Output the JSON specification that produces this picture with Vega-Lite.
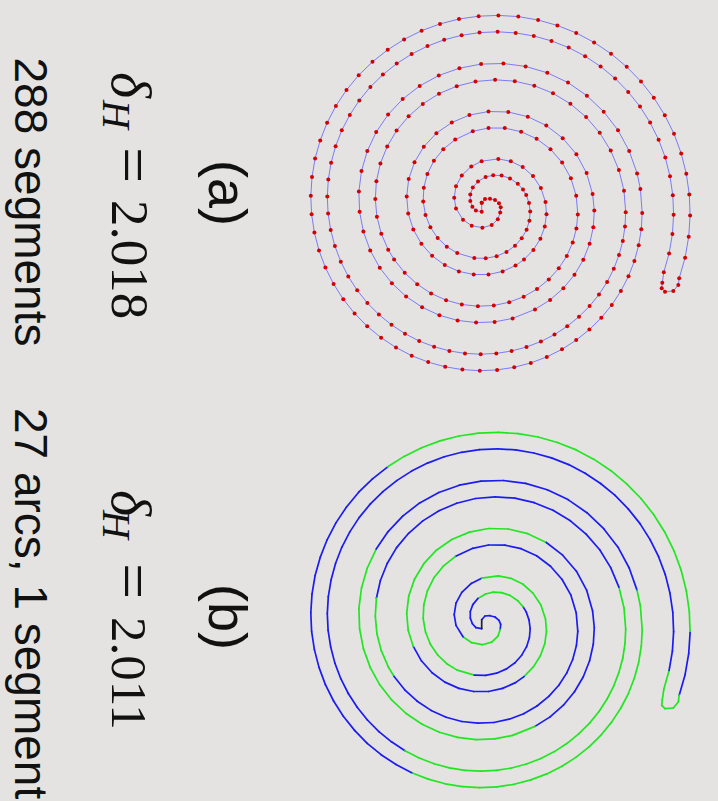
{
  "$schema": "https://vega.github.io/schema/vega-lite/v6.json",
  "background": "#e4e3e1",
  "padding": 0,
  "autosize": {"type": "pad"},
  "spacing": 0,
  "bounds": "flush",
  "config": {"view": {"stroke": null}},
  "datasets": {
    "curve": [
      {"i":0,"x":-6.8,"y":2.3,"arc":1},{"i":1,"x":-3.5,"y":6.0,"arc":1},{"i":2,"x":1.5,"y":6.3,"arc":1},{"i":3,"x":6.5,"y":5.0,"arc":1},{"i":4,"x":10.5,"y":1.7,"arc":1},{"i":5,"x":12.2,"y":-2.3,"arc":1},
      {"i":6,"x":11.7,"y":-7.6,"arc":2},{"i":7,"x":9.3,"y":-14.3,"arc":2},{"i":8,"x":3.2,"y":-20.1,"arc":2},{"i":9,"x":-6.1,"y":-22.7,"arc":2},{"i":10,"x":-16.8,"y":-20.7,"arc":2},
      {"i":11,"x":-25.5,"y":-14.8,"arc":1},{"i":12,"x":-32.5,"y":-3.4,"arc":1},{"i":13,"x":-34.3,"y":7.3,"arc":1},{"i":14,"x":-32.5,"y":18.8,"arc":1},{"i":15,"x":-26.7,"y":29.6,"arc":1},{"i":16,"x":-17.2,"y":38.6,"arc":1},
      {"i":17,"x":-6.9,"y":43.8,"arc":2},{"i":18,"x":9.8,"y":46.1,"arc":2},{"i":19,"x":22.3,"y":43.7,"arc":2},{"i":20,"x":34.2,"y":38.0,"arc":2},{"i":21,"x":44.5,"y":28.9,"arc":2},{"i":22,"x":52.4,"y":17.0,"arc":2},{"i":23,"x":57.0,"y":3.0,"arc":2},{"i":24,"x":58.0,"y":-9.2,"arc":2},{"i":25,"x":56.3,"y":-21.6,"arc":2},{"i":26,"x":51.9,"y":-33.7,"arc":2},{"i":27,"x":44.9,"y":-44.9,"arc":2},
      {"i":28,"x":35.5,"y":-54.6,"arc":1},{"i":29,"x":27.0,"y":-60.6,"arc":1},{"i":30,"x":14.1,"y":-66.4,"arc":1},{"i":31,"x":0.0,"y":-69.5,"arc":1},{"i":32,"x":-14.8,"y":-69.5,"arc":1},{"i":33,"x":-29.6,"y":-66.4,"arc":1},{"i":34,"x":-43.7,"y":-60.1,"arc":1},{"i":35,"x":-56.4,"y":-50.8,"arc":1},{"i":36,"x":-67.1,"y":-38.8,"arc":1},
      {"i":37,"x":-75.2,"y":-24.4,"arc":2},{"i":38,"x":-80.3,"y":-8.4,"arc":2},{"i":39,"x":-81.8,"y":8.6,"arc":2},{"i":40,"x":-79.8,"y":25.9,"arc":2},{"i":41,"x":-74.0,"y":42.8,"arc":2},{"i":42,"x":-64.7,"y":58.3,"arc":2},{"i":43,"x":-52.1,"y":71.8,"arc":2},{"i":44,"x":-36.7,"y":82.5,"arc":2},{"i":45,"x":-19.1,"y":89.9,"arc":2},{"i":46,"x":0.0,"y":93.5,"arc":2},{"i":47,"x":19.8,"y":93.0,"arc":2},{"i":48,"x":39.3,"y":88.3,"arc":2},
      {"i":49,"x":57.8,"y":79.5,"arc":1},{"i":50,"x":74.2,"y":66.8,"arc":1},{"i":51,"x":87.9,"y":50.8,"arc":1},{"i":52,"x":98.1,"y":31.9,"arc":1},{"i":53,"x":104.1,"y":10.9,"arc":1},{"i":54,"x":105.8,"y":-5.5,"arc":1},{"i":55,"x":104.8,"y":-22.3,"arc":1},{"i":56,"x":101.1,"y":-38.8,"arc":1},{"i":57,"x":94.8,"y":-54.8,"arc":1},{"i":58,"x":86.0,"y":-69.7,"arc":1},{"i":59,"x":74.9,"y":-83.2,"arc":1},{"i":60,"x":61.6,"y":-94.9,"arc":1},
      {"i":61,"x":46.5,"y":-104.4,"arc":2},{"i":62,"x":24.1,"y":-113.4,"arc":2},{"i":63,"x":6.1,"y":-116.9,"arc":2},{"i":64,"x":-12.4,"y":-117.6,"arc":2},{"i":65,"x":-30.9,"y":-115.4,"arc":2},{"i":66,"x":-49.1,"y":-110.3,"arc":2},{"i":67,"x":-66.4,"y":-102.2,"arc":2},{"i":68,"x":-82.4,"y":-91.5,"arc":2},{"i":69,"x":-96.6,"y":-78.2,"arc":2},{"i":70,"x":-108.7,"y":-62.8,"arc":2},{"i":71,"x":-118.3,"y":-45.4,"arc":2},{"i":72,"x":-125.1,"y":-26.6,"arc":2},{"i":73,"x":-128.9,"y":-6.8,"arc":2},{"i":74,"x":-129.6,"y":13.6,"arc":2},{"i":75,"x":-127.0,"y":34.0,"arc":2},{"i":76,"x":-121.2,"y":54.0,"arc":2},
      {"i":77,"x":-112.3,"y":72.9,"arc":1},{"i":78,"x":-100.4,"y":90.4,"arc":1},{"i":79,"x":-85.8,"y":105.9,"arc":1},{"i":80,"x":-68.8,"y":119.1,"arc":1},{"i":81,"x":-49.7,"y":129.5,"arc":1},{"i":82,"x":-29.1,"y":136.8,"arc":1},{"i":83,"x":-7.4,"y":140.9,"arc":1},{"i":84,"x":14.9,"y":141.5,"arc":1},{"i":85,"x":37.1,"y":138.6,"arc":1},{"i":86,"x":58.8,"y":132.2,"arc":1},{"i":87,"x":79.5,"y":122.4,"arc":1},{"i":88,"x":98.4,"y":109.3,"arc":1},{"i":89,"x":115.2,"y":93.3,"arc":1},{"i":90,"x":129.5,"y":74.8,"arc":1},{"i":91,"x":140.7,"y":54.0,"arc":1},
      {"i":92,"x":148.6,"y":31.6,"arc":2},{"i":93,"x":151.9,"y":16.0,"arc":2},{"i":94,"x":153.7,"y":-8.0,"arc":2},{"i":95,"x":152.8,"y":-24.2,"arc":2},{"i":96,"x":150.2,"y":-40.2,"arc":2},{"i":97,"x":145.9,"y":-56.0,"arc":2},{"i":98,"x":140.0,"y":-71.3,"arc":2},{"i":99,"x":132.4,"y":-86.0,"arc":2},{"i":100,"x":123.3,"y":-99.9,"arc":2},{"i":101,"x":112.8,"y":-112.8,"arc":2},{"i":102,"x":100.9,"y":-124.6,"arc":2},{"i":103,"x":87.7,"y":-135.1,"arc":2},{"i":104,"x":73.5,"y":-144.3,"arc":2},{"i":105,"x":58.3,"y":-151.9,"arc":2},{"i":106,"x":42.3,"y":-157.9,"arc":2},{"i":107,"x":25.7,"y":-162.3,"arc":2},{"i":108,"x":8.6,"y":-164.9,"arc":2},{"i":109,"x":-8.7,"y":-165.7,"arc":2},{"i":110,"x":-26.1,"y":-164.6,"arc":2},{"i":111,"x":-43.3,"y":-161.8,"arc":2},{"i":112,"x":-60.3,"y":-157.1,"arc":2},
      {"i":113,"x":-76.8,"y":-150.7,"arc":1},{"i":114,"x":-92.5,"y":-142.5,"arc":1},{"i":115,"x":-107.4,"y":-132.7,"arc":1},{"i":116,"x":-121.3,"y":-121.3,"arc":1},{"i":117,"x":-133.9,"y":-108.4,"arc":1},{"i":118,"x":-145.2,"y":-94.3,"arc":1},{"i":119,"x":-154.9,"y":-79.0,"arc":1},{"i":120,"x":-163.1,"y":-62.6,"arc":1},{"i":121,"x":-169.5,"y":-45.4,"arc":1},{"i":122,"x":-174.1,"y":-27.6,"arc":1},{"i":123,"x":-176.9,"y":-9.3,"arc":1},{"i":124,"x":-177.7,"y":9.3,"arc":1},{"i":125,"x":-176.5,"y":27.9,"arc":1},{"i":126,"x":-173.4,"y":46.5,"arc":1},{"i":127,"x":-168.3,"y":64.6,"arc":1},{"i":128,"x":-161.4,"y":82.2,"arc":1},{"i":129,"x":-152.6,"y":99.1,"arc":1},{"i":130,"x":-142.0,"y":115.0,"arc":1},{"i":131,"x":-129.8,"y":129.8,"arc":1},{"i":132,"x":-116.0,"y":143.2,"arc":1},
      {"i":133,"x":-100.8,"y":155.2,"arc":2},{"i":134,"x":-84.4,"y":165.6,"arc":2},{"i":135,"x":-66.9,"y":174.3,"arc":2},{"i":136,"x":-48.5,"y":181.1,"arc":2},{"i":137,"x":-29.5,"y":186.0,"arc":2},{"i":138,"x":-9.9,"y":188.8,"arc":2},{"i":139,"x":9.9,"y":189.6,"arc":2},{"i":140,"x":29.8,"y":188.4,"arc":2},{"i":141,"x":49.6,"y":185.0,"arc":2},{"i":142,"x":68.9,"y":179.5,"arc":2},{"i":143,"x":87.7,"y":172.1,"arc":2},{"i":144,"x":105.6,"y":162.6,"arc":2},{"i":145,"x":122.5,"y":151.3,"arc":2},{"i":146,"x":138.2,"y":138.2,"arc":2},{"i":147,"x":152.5,"y":123.5,"arc":2},{"i":148,"x":165.3,"y":107.3,"arc":2},{"i":149,"x":176.3,"y":89.8,"arc":2},{"i":150,"x":185.5,"y":71.2,"arc":2},{"i":151,"x":192.7,"y":51.6,"arc":2},{"i":152,"x":197.8,"y":31.3,"arc":2},{"i":153,"x":200.8,"y":10.5,"arc":2},
      {"i":154,"x":201.6,"y":-10.6,"arc":1},{"i":155,"x":200.2,"y":-31.7,"arc":1},{"i":156,"x":196.6,"y":-52.7,"arc":1},
      {"i":157,"x":190.7,"y":-73.2,"arc":2},{"i":158,"x":189.8,"y":-80.0,"arc":2},{"i":159,"x":184.8,"y":-86.0,"arc":2},{"i":160,"x":176.5,"y":-86.7,"arc":2},{"i":161,"x":173.2,"y":-83.3,"arc":2},{"i":162,"x":173.8,"y":-77.7,"arc":2},{"i":163,"x":175.3,"y":-67.3,"arc":2},
      {"i":164,"x":180.6,"y":-48.4,"arc":1},{"i":165,"x":183.9,"y":-29.1,"arc":1},{"i":166,"x":185.1,"y":-9.7,"arc":1},{"i":167,"x":184.3,"y":9.7,"arc":1},{"i":168,"x":181.5,"y":28.7,"arc":1},{"i":169,"x":176.8,"y":47.4,"arc":1},{"i":170,"x":170.1,"y":65.3,"arc":1},{"i":171,"x":161.6,"y":82.4,"arc":1},{"i":172,"x":151.5,"y":98.4,"arc":1},{"i":173,"x":139.7,"y":113.1,"arc":1},{"i":174,"x":126.6,"y":126.6,"arc":1},{"i":175,"x":112.1,"y":138.5,"arc":1},{"i":176,"x":96.6,"y":148.8,"arc":1},{"i":177,"x":80.2,"y":157.4,"arc":1},{"i":178,"x":63.0,"y":164.1,"arc":1},{"i":179,"x":45.3,"y":169.0,"arc":1},{"i":180,"x":27.2,"y":172.1,"arc":1},{"i":181,"x":9.1,"y":173.2,"arc":1},{"i":182,"x":-9.0,"y":172.4,"arc":1},{"i":183,"x":-26.9,"y":169.7,"arc":1},{"i":184,"x":-44.3,"y":165.2,"arc":1},{"i":185,"x":-61.0,"y":158.9,"arc":1},{"i":186,"x":-76.9,"y":150.9,"arc":1},{"i":187,"x":-91.8,"y":141.4,"arc":1},{"i":188,"x":-105.6,"y":130.4,"arc":1},{"i":189,"x":-118.1,"y":118.1,"arc":1},{"i":190,"x":-129.2,"y":104.6,"arc":1},{"i":191,"x":-138.7,"y":90.1,"arc":1},{"i":192,"x":-146.7,"y":74.7,"arc":1},{"i":193,"x":-152.9,"y":58.7,"arc":1},{"i":194,"x":-157.4,"y":42.2,"arc":1},{"i":195,"x":-160.2,"y":25.4,"arc":1},{"i":196,"x":-161.2,"y":8.4,"arc":1},{"i":197,"x":-160.4,"y":-8.4,"arc":1},{"i":198,"x":-157.8,"y":-25.0,"arc":1},{"i":199,"x":-153.6,"y":-41.1,"arc":1},{"i":200,"x":-147.7,"y":-56.7,"arc":1},{"i":201,"x":-140.2,"y":-71.5,"arc":1},{"i":202,"x":-131.3,"y":-85.3,"arc":1},{"i":203,"x":-121.1,"y":-98.0,"arc":1},{"i":204,"x":-109.6,"y":-109.6,"arc":1},{"i":205,"x":-97.0,"y":-119.8,"arc":1},
      {"i":206,"x":-83.5,"y":-128.7,"arc":2},{"i":207,"x":-69.3,"y":-136.0,"arc":2},{"i":208,"x":-54.4,"y":-141.7,"arc":2},{"i":209,"x":-39.1,"y":-145.9,"arc":2},{"i":210,"x":-23.5,"y":-148.4,"arc":2},{"i":211,"x":-7.8,"y":-149.2,"arc":2},{"i":212,"x":7.8,"y":-148.4,"arc":2},{"i":213,"x":23.1,"y":-146.0,"arc":2},{"i":214,"x":38.0,"y":-142.0,"arc":2},{"i":215,"x":52.4,"y":-136.5,"arc":2},{"i":216,"x":66.0,"y":-129.6,"arc":2},{"i":217,"x":78.7,"y":-121.3,"arc":2},{"i":218,"x":90.5,"y":-111.7,"arc":2},{"i":219,"x":101.1,"y":-101.1,"arc":2},{"i":220,"x":110.5,"y":-89.5,"arc":2},{"i":221,"x":118.6,"y":-77.0,"arc":2},{"i":222,"x":125.3,"y":-63.8,"arc":2},{"i":223,"x":130.5,"y":-50.1,"arc":2},{"i":224,"x":134.3,"y":-36.0,"arc":2},{"i":225,"x":136.5,"y":-21.6,"arc":2},{"i":226,"x":137.2,"y":-7.2,"arc":2},{"i":227,"x":135.5,"y":14.2,"arc":2},
      {"i":228,"x":130.4,"y":34.9,"arc":1},{"i":229,"x":122.2,"y":54.4,"arc":1},{"i":230,"x":111.2,"y":72.2,"arc":1},{"i":231,"x":97.6,"y":87.9,"arc":1},{"i":232,"x":81.9,"y":101.2,"arc":1},{"i":233,"x":64.5,"y":111.7,"arc":1},{"i":234,"x":45.8,"y":119.3,"arc":1},{"i":235,"x":26.3,"y":123.8,"arc":1},{"i":236,"x":6.6,"y":125.2,"arc":1},{"i":237,"x":-13.0,"y":123.5,"arc":1},{"i":238,"x":-31.8,"y":118.8,"arc":1},{"i":239,"x":-49.5,"y":111.3,"arc":1},{"i":240,"x":-65.7,"y":101.1,"arc":1},{"i":241,"x":-79.9,"y":88.7,"arc":1},{"i":242,"x":-91.9,"y":74.4,"arc":1},{"i":243,"x":-101.3,"y":58.5,"arc":1},{"i":244,"x":-108.1,"y":41.5,"arc":1},
      {"i":245,"x":-112.1,"y":23.8,"arc":2},{"i":246,"x":-113.2,"y":5.9,"arc":2},{"i":247,"x":-111.6,"y":-11.7,"arc":2},{"i":248,"x":-107.2,"y":-28.7,"arc":2},{"i":249,"x":-100.3,"y":-44.7,"arc":2},
      {"i":250,"x":-94.4,"y":-54.5,"arc":1},{"i":251,"x":-83.8,"y":-67.8,"arc":1},{"i":252,"x":-71.3,"y":-79.2,"arc":1},{"i":253,"x":-57.4,"y":-88.4,"arc":1},{"i":254,"x":-42.4,"y":-95.2,"arc":1},{"i":255,"x":-26.7,"y":-99.5,"arc":1},{"i":256,"x":-10.6,"y":-101.2,"arc":1},{"i":257,"x":5.3,"y":-100.5,"arc":1},{"i":258,"x":20.7,"y":-97.2,"arc":1},{"i":259,"x":35.2,"y":-91.7,"arc":1},{"i":260,"x":48.5,"y":-84.0,"arc":1},{"i":261,"x":60.3,"y":-74.4,"arc":1},{"i":262,"x":70.3,"y":-63.3,"arc":1},{"i":263,"x":78.3,"y":-50.9,"arc":1},{"i":264,"x":84.2,"y":-37.5,"arc":1},{"i":265,"x":87.9,"y":-23.6,"arc":1},{"i":266,"x":89.3,"y":-9.4,"arc":1},{"i":267,"x":87.7,"y":9.2,"arc":1},{"i":268,"x":82.4,"y":26.8,"arc":1},{"i":269,"x":73.6,"y":42.5,"arc":1},{"i":270,"x":62.0,"y":55.8,"arc":1},{"i":271,"x":48.1,"y":66.2,"arc":1},{"i":272,"x":32.6,"y":73.3,"arc":1},{"i":273,"x":16.3,"y":76.9,"arc":1},{"i":274,"x":0.0,"y":77.0,"arc":1},{"i":275,"x":-15.7,"y":73.7,"arc":1},
      {"i":276,"x":-33.3,"y":65.4,"arc":2},{"i":277,"x":-45.2,"y":55.8,"arc":2},{"i":278,"x":-54.6,"y":44.2,"arc":2},{"i":279,"x":-61.1,"y":31.1,"arc":2},{"i":280,"x":-64.7,"y":17.3,"arc":2},{"i":281,"x":-65.3,"y":3.4,"arc":2},{"i":282,"x":-63.0,"y":-10.0,"arc":2},{"i":283,"x":-58.1,"y":-22.3,"arc":2},{"i":284,"x":-50.8,"y":-33.0,"arc":2},{"i":285,"x":-41.7,"y":-41.7,"arc":2},{"i":286,"x":-31.3,"y":-48.1,"arc":2},
      {"i":287,"x":-14.2,"y":-53.1,"arc":1},{"i":288,"x":-2.8,"y":-53.3,"arc":1},{"i":289,"x":8.1,"y":-51.2,"arc":1},{"i":290,"x":18.0,"y":-46.9,"arc":1},{"i":291,"x":26.5,"y":-40.8,"arc":1},{"i":292,"x":33.2,"y":-33.2,"arc":1},{"i":293,"x":38.1,"y":-24.7,"arc":1},{"i":294,"x":40.9,"y":-15.7,"arc":1},{"i":295,"x":41.7,"y":-6.6,"arc":1},{"i":296,"x":40.5,"y":2.1,"arc":1},{"i":297,"x":37.7,"y":10.1,"arc":1},
      {"i":298,"x":34.5,"y":15.4,"arc":2},{"i":299,"x":29.3,"y":21.3,"arc":2},{"i":300,"x":21.5,"y":26.6,"arc":2},{"i":301,"x":13.1,"y":29.4,"arc":2},{"i":302,"x":4.7,"y":29.8,"arc":2},{"i":303,"x":-2.9,"y":28.0,"arc":2},
      {"i":304,"x":-10.5,"y":23.6,"arc":1},{"i":305,"x":-15.7,"y":17.4,"arc":1},{"i":306,"x":-18.2,"y":10.5,"arc":1},{"i":307,"x":-18.2,"y":3.9,"arc":1},{"i":308,"x":-16.1,"y":-1.7,"arc":1},{"i":309,"x":-12.6,"y":-5.6,"arc":1},
      {"i":310,"x":-6.8,"y":-6.7,"arc":0},{"i":311,"x":-6.8,"y":2.3,"arc":0}
    ]
  },
  "vconcat": [
    {
      "width": 718,
      "height": 400,
      "encoding": {
        "x": {"field": "x", "type": "quantitative", "scale": {"domain": [-488.5, 229.5], "nice": false, "zero": false}, "axis": null},
        "y": {"field": "y", "type": "quantitative", "scale": {"domain": [-195, 205], "nice": false, "zero": false}, "axis": null}
      },
      "layer": [
        {
          "data": {"name": "curve"},
          "mark": {"type": "line", "stroke": "#7b7bf6", "strokeWidth": 1},
          "encoding": {"order": {"field": "i", "type": "quantitative"}}
        },
        {
          "data": {"name": "curve"},
          "mark": {"type": "circle", "color": "#d40000", "size": 16, "opacity": 1}
        },
        {
          "data": {"values": [{"label": "(a)", "x": -263.5, "y": 12}]},
          "mark": {"type": "text", "angle": 90, "align": "center", "baseline": "middle", "font": "Liberation Sans", "fontSize": 54, "color": "#111111"},
          "encoding": {"text": {"field": "label"}}
        },
        {
          "data": {"values": [{"label": "288 segments", "x": -473.5, "y": 3}]},
          "mark": {"type": "text", "angle": 90, "align": "center", "baseline": "alphabetic", "font": "Liberation Sans", "fontSize": 46, "color": "#111111"},
          "encoding": {"text": {"field": "label"}}
        },
        {
          "data": {"values": [{"label": "δ", "x": -376.5, "y": 133}]},
          "mark": {"type": "text", "angle": 90, "align": "left", "baseline": "alphabetic", "font": "Liberation Serif", "fontStyle": "italic", "fontSize": 56, "color": "#111111"},
          "encoding": {"text": {"field": "label"}}
        },
        {
          "data": {"values": [{"label": "H", "x": -385.5, "y": 105}]},
          "mark": {"type": "text", "angle": 90, "align": "left", "baseline": "alphabetic", "font": "Liberation Serif", "fontStyle": "italic", "fontSize": 40, "color": "#111111"},
          "encoding": {"text": {"field": "label"}}
        },
        {
          "data": {"values": [{"label": "=", "x": -376.5, "y": 58}]},
          "mark": {"type": "text", "angle": 90, "align": "left", "baseline": "alphabetic", "font": "Liberation Serif", "fontSize": 64, "color": "#111111"},
          "encoding": {"text": {"field": "label"}}
        },
        {
          "data": {"values": [{"label": "2.018", "x": -376.5, "y": 5}]},
          "mark": {"type": "text", "angle": 90, "align": "left", "baseline": "alphabetic", "font": "Liberation Serif", "fontSize": 53, "color": "#111111"},
          "encoding": {"text": {"field": "label"}}
        }
      ]
    },
    {
      "width": 718,
      "height": 401,
      "encoding": {
        "x": {"field": "x", "type": "quantitative", "scale": {"domain": [-488.5, 229.5], "nice": false, "zero": false}, "axis": null},
        "y": {"field": "y", "type": "quantitative", "scale": {"domain": [-179, 222], "nice": false, "zero": false}, "axis": null}
      },
      "layer": [
        {
          "data": {"name": "curve"},
          "transform": [
            {"window": [{"op": "lead", "field": "x", "as": "x2"}, {"op": "lead", "field": "y", "as": "y2"}], "sort": [{"field": "i", "order": "ascending"}]},
            {"filter": "isValid(datum.x2)"}
          ],
          "mark": {"type": "rule", "strokeWidth": 1.7, "strokeCap": "round"},
          "encoding": {
            "x2": {"field": "x2"},
            "y2": {"field": "y2"},
            "color": {"field": "arc", "type": "nominal", "scale": {"domain": [1, 2, 0], "range": ["#1c1cf2", "#22e622", "#222222"]}, "legend": null}
          }
        },
        {
          "data": {"values": [{"label": "(b)", "x": -263.5, "y": 5}]},
          "mark": {"type": "text", "angle": 90, "align": "center", "baseline": "middle", "font": "Liberation Sans", "fontSize": 54, "color": "#111111"},
          "encoding": {"text": {"field": "label"}}
        },
        {
          "data": {"values": [{"label": "27 arcs, 1 segment", "x": -473.5, "y": 214}]},
          "mark": {"type": "text", "angle": 90, "align": "left", "baseline": "alphabetic", "font": "Liberation Sans", "fontSize": 46, "color": "#111111", "clip": true},
          "encoding": {"text": {"field": "label"}}
        },
        {
          "data": {"values": [{"label": "δ", "x": -376.5, "y": 132}]},
          "mark": {"type": "text", "angle": 90, "align": "left", "baseline": "alphabetic", "font": "Liberation Serif", "fontStyle": "italic", "fontSize": 56, "color": "#111111"},
          "encoding": {"text": {"field": "label"}}
        },
        {
          "data": {"values": [{"label": "H", "x": -385.5, "y": 112}]},
          "mark": {"type": "text", "angle": 90, "align": "left", "baseline": "alphabetic", "font": "Liberation Serif", "fontStyle": "italic", "fontSize": 40, "color": "#111111"},
          "encoding": {"text": {"field": "label"}}
        },
        {
          "data": {"values": [{"label": "=", "x": -376.5, "y": 59}]},
          "mark": {"type": "text", "angle": 90, "align": "left", "baseline": "alphabetic", "font": "Liberation Serif", "fontSize": 64, "color": "#111111"},
          "encoding": {"text": {"field": "label"}}
        },
        {
          "data": {"values": [{"label": "2.011", "x": -376.5, "y": 5}]},
          "mark": {"type": "text", "angle": 90, "align": "left", "baseline": "alphabetic", "font": "Liberation Serif", "fontSize": 51, "color": "#111111"},
          "encoding": {"text": {"field": "label"}}
        }
      ]
    }
  ]
}
